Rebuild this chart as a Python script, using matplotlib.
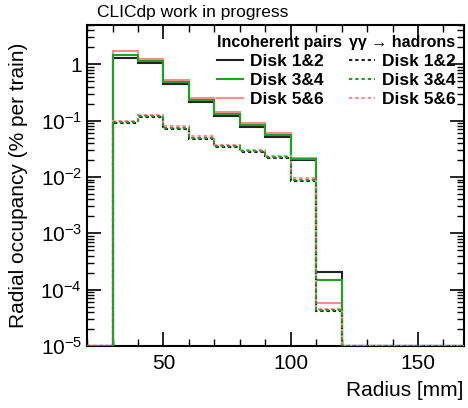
import numpy as np
import matplotlib
matplotlib.use("Agg")
import matplotlib.pyplot as plt
from matplotlib.ticker import LogLocator, MultipleLocator, FuncFormatter, NullFormatter

plt.rcParams['font.family'] = ['Liberation Sans', 'DejaVu Sans']
plt.rcParams['mathtext.fontset'] = 'custom'
plt.rcParams['mathtext.rm'] = 'Liberation Sans'
plt.rcParams['mathtext.it'] = 'Liberation Sans:italic'

# bin edges in mm (10 mm bins)
edges = np.arange(20, 171, 10)

# incoherent pairs, % per train
inc_d12 = [0, 1.31, 1.07, 0.454, 0.214, 0.119, 0.0768, 0.0518, 0.0197, 2.09e-4, 0, 0, 0, 0, 0]
inc_d34 = [0, 1.49, 1.14, 0.49, 0.236, 0.129, 0.082, 0.0553, 0.0205, 1.5e-4, 0, 0, 0, 0, 0]
inc_d56 = [0, 1.70, 1.26, 0.535, 0.252, 0.142, 0.0904, 0.060, 0.0219, 5.9e-5, 0, 0, 0, 0, 0]

# gamma gamma -> hadrons, % per train
had_d12 = [0, 0.0904, 0.116, 0.0708, 0.0478, 0.0339, 0.0273, 0.0218, 0.0084, 4.1e-5, 0, 0, 0, 0, 0]
had_d34 = [0, 0.094, 0.121, 0.075, 0.050, 0.035, 0.0285, 0.0225, 0.0089, 4.3e-5, 0, 0, 0, 0, 0]
had_d56 = [0, 0.098, 0.126, 0.080, 0.053, 0.0363, 0.0296, 0.0231, 0.0094, 4.6e-5, 0, 0, 0, 0, 0]

labels = ["Disk 1&2", "Disk 3&4", "Disk 5&6"]
colors = ["#222222", "#22a022", "#ff8c8c"]
ymin = 1e-5

fig = plt.figure(figsize=(4.68, 4.08), dpi=100)
ax = fig.add_axes([0.186, 0.152, 0.805, 0.787])

dots = (0, (1.6, 1.4))
# draw order: black, pink, green
for vals, col in [(inc_d12, colors[0]), (inc_d56, colors[2]), (inc_d34, colors[1])]:
    v = np.clip(vals, ymin, None)
    ax.stairs(v, edges, baseline=ymin, color=col, lw=1.5, zorder=3)
for vals, col in [(had_d12, colors[0]), (had_d56, colors[2]), (had_d34, colors[1])]:
    v = np.clip(vals, ymin, None)
    ax.stairs(v, edges, baseline=ymin, color=col, lw=1.5, linestyle=dots, zorder=3)

ax.set_yscale('log')
ax.set_xlim(20, 168)
ax.set_ylim(ymin, 5)

# legends: one per sample, header as legend title
h_inc = [plt.Line2D([], [], color=c, lw=1.5) for c in colors]
h_had = [plt.Line2D([], [], color=c, lw=1.5, linestyle=dots) for c in colors]
common = dict(loc='upper left', frameon=False, handlelength=1.5, handletextpad=0.4,
              labelspacing=0.22, borderpad=0, borderaxespad=0,
              prop={'weight': 'bold', 'size': 12.5},
              title_fontproperties={'weight': 'bold', 'size': 11.5}, alignment='left')
leg1 = ax.legend(h_inc, labels, title="Incoherent pairs",
                 bbox_to_anchor=(0.345, 0.968), **common)
ax.add_artist(leg1)
leg2 = ax.legend(h_had, labels, title="\u03b3\u03b3 \u2192 hadrons",
                 bbox_to_anchor=(0.695, 0.968), **common)

# ticks ROOT style
ax.xaxis.set_major_locator(MultipleLocator(50))
ax.xaxis.set_minor_locator(MultipleLocator(10))
ax.yaxis.set_major_locator(LogLocator(base=10, numticks=20))
ax.yaxis.set_minor_locator(LogLocator(base=10, subs=np.arange(2, 10), numticks=20))
ax.yaxis.set_minor_formatter(NullFormatter())

def yfmt(v, pos):
    e = int(round(np.log10(v)))
    if e == 0:
        return "1"
    return r"$10^{%d}$" % e

ax.yaxis.set_major_formatter(FuncFormatter(yfmt))
ax.tick_params(which='both', direction='in', top=True, right=True, labelsize=15)
ax.tick_params(which='major', length=10, width=1.2)
ax.tick_params(which='minor', length=5, width=1.0)
ax.tick_params(axis='x', pad=6)
for s in ax.spines.values():
    s.set_linewidth(1.5)

ax.set_xlabel("Radius [mm]", fontsize=15, ha='right', x=1.0)
ax.set_ylabel("Radial occupancy (% per train)", fontsize=15)
ax.xaxis.set_label_coords(1.0, -0.109)
ax.yaxis.set_label_coords(-0.157, 0.5)

fig.text(97 / 468, 1 - 12 / 408, "CLICdp work in progress", fontsize=12.5,
         va='center', ha='left')

fig.savefig("out.png", dpi=100)
